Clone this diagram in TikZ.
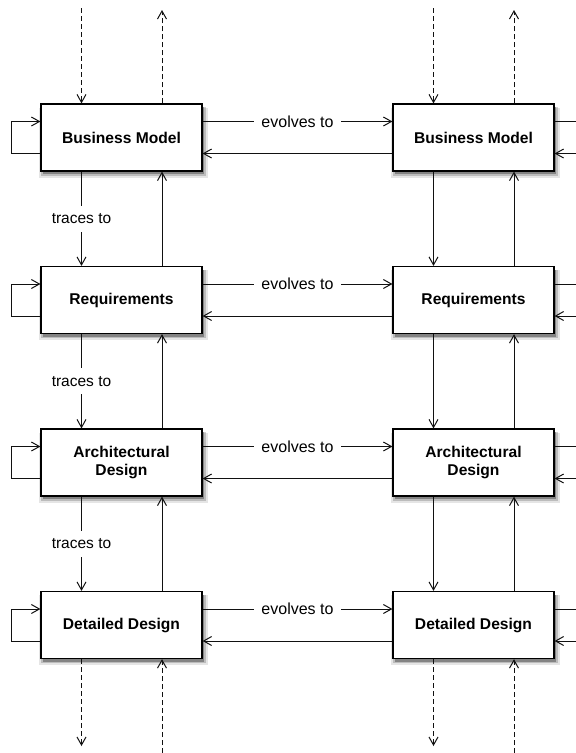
\documentclass[tikz,border=0pt]{standalone}
\usepackage{fontspec}
\setmainfont{Liberation Sans}
\usepackage{tikz}
\usetikzlibrary{arrows.meta,shadows,calc}
\definecolor{csombra}{HTML}{000000}
\definecolor{clinea}{HTML}{111111}
\tikzset{
  caja/.style={draw=black, line width=1.2pt, fill=white, minimum width=161pt, minimum height=67pt,
    align=center, font=\fontsize{15.6}{18}\selectfont\bfseries,
    general shadow={shadow xshift=2pt, shadow yshift=-5pt, shadow scale=1.05, fill=csombra, opacity=.1},
    general shadow={shadow xshift=2pt, shadow yshift=-4pt, shadow scale=1.025, fill=csombra, opacity=.18},
    general shadow={shadow xshift=2pt, shadow yshift=-3pt, fill=csombra, opacity=.3}},
  flecha/.style={-{Straight Barb[length=8pt,width=9pt]}, line width=1pt, clinea},
  punteada/.style={flecha, dash pattern=on 5pt off 3pt},
  etiqueta/.style={fill=white, text=black, font=\fontsize{16}{18}\selectfont, inner xsep=7pt, inner ysep=8pt}
}

\begin{document}
\begin{tikzpicture}[x=1pt,y=-1pt]
  \useasboundingbox (0,0) rectangle (576,753);
  % two columns of the same four levels
  \foreach \c/\cx in {1/121.5,2/473.5}{
    \node[caja] (bm\c) at (\cx,137.5) {Business Model};
    \node[caja] (rq\c) at (\cx,300) {Requirements};
    \node[caja] (ad\c) at (\cx,462.5) {Architectural\\Design};
    \node[caja] (dd\c) at (\cx,625) {Detailed Design};
    \coordinate (ta\c) at (\cx-40,8);
    \coordinate (tb\c) at (\cx+40.5,10);
    \coordinate (ba\c) at (\cx-40,746);
    \coordinate (bb\c) at (\cx+40.5,753);
  }
  \coordinate (borde) at (576,0);
  % dashed ends, top and bottom
  \foreach \c in {1,2}{
    \draw[punteada] (ta\c) -- ([xshift=-40pt]bm\c.north);
    \draw[punteada] ([xshift=40.5pt]bm\c.north) -- (tb\c);
    \draw[punteada] ([xshift=-40pt]dd\c.south) -- (ba\c);
    \draw[punteada] (bb\c) -- ([xshift=40.5pt]dd\c.south);
  }
  % vertical links
  \foreach \a/\b in {bm1/rq1,rq1/ad1,ad1/dd1}{
    \draw[flecha] ([xshift=-40pt]\a.south) -- node[etiqueta, font=\fontsize{15.5}{18}\selectfont]{traces to} ([xshift=-40pt]\b.north);
    \draw[flecha] ([xshift=40.5pt]\b.north) -- ([xshift=40.5pt]\a.south);
  }
  \foreach \a/\b in {bm2/rq2,rq2/ad2,ad2/dd2}{
    \draw[flecha] ([xshift=-40pt]\a.south) -- ([xshift=-40pt]\b.north);
    \draw[flecha] ([xshift=40.5pt]\b.north) -- ([xshift=40.5pt]\a.south);
  }
  % horizontal links, self loops and the cut edge on the right
  \foreach \a/\b in {bm1/bm2,rq1/rq2,ad1/ad2,dd1/dd2}{
    \draw[flecha] ([yshift=16pt]\a.east) -- node[etiqueta]{evolves to} ([yshift=16pt]\b.west);
    \draw[flecha] ([yshift=-16pt]\b.west) -- ([yshift=-16pt]\a.east);
    \draw[flecha] ([yshift=-16pt]\a.west) -- ++(-29,0) |- ([yshift=16pt]\a.west);
    \draw[line width=1pt, clinea] ([yshift=16pt]\b.east) -- ([yshift=16pt]\b.east -| borde);
    \draw[flecha] ([yshift=-16pt]\b.east -| borde) -- ([yshift=-16pt]\b.east);
  }
\end{tikzpicture}
\end{document}
